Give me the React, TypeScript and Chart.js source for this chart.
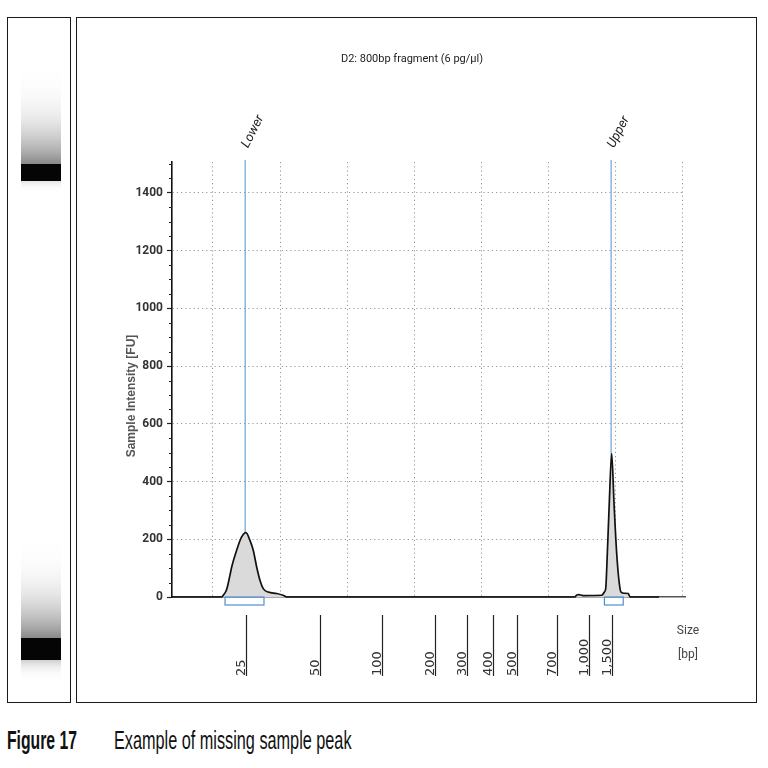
import React, { useEffect, useRef } from 'react';
import { Chart, registerables } from 'chart.js';

Chart.register(...registerables);

// ---------- data ----------
const TITLE = 'D2: 800bp fragment (6 pg/µl)';
const Y_TITLE = 'Sample Intensity [FU]';
const X_UNIT_LABEL = ['Size', '[bp]'];
const CAPTION_NUMBER = 'Figure 17';
const CAPTION_TEXT = 'Example of missing sample peak';

// electropherogram trace: migration position (arbitrary units) vs intensity (FU)
const TRACE_X = [
  13.9, 21.3, 21.53, 22.04, 22.53, 22.79, 23.53, 24.27, 24.92, 25.51, 26.0, 26.51, 27.0, 27.49, 28.24, 29.49, 30.43, 31.0,
  73.9, 74.17, 74.5, 74.91, 75.2, 77.9, 78.28, 78.49, 78.73, 79.02, 79.38, 79.73, 80.13, 80.52, 80.77, 81.3, 81.86, 82.11, 86.43,
];
const TRACE_Y = [
  0, 0, 6, 26, 75, 104, 162, 208, 223, 196, 162, 104, 58, 29, 17, 12, 6, 0,
  0, 7, 8, 6, 5, 6, 17, 29, 150, 324, 497, 324, 150, 46, 17, 13, 12, 0, 0,
];

const X_MIN = 13.9;
const X_MAX = 90.3;
const Y_MIN = 0;
const Y_MAX = 1507;
const Y_TICKS = [0, 200, 400, 600, 800, 1000, 1200, 1400];
const Y_MINOR_TICKS = [50, 100, 150, 250, 300, 350, 450, 500, 550, 650, 700, 750, 850, 900, 950, 1050, 1100, 1150, 1250, 1300, 1350, 1450, 1500];
const X_GRID = [20, 30, 40, 50, 60, 70, 80, 90];

// ladder (size in bp at migration position)
const LADDER_LABELS = ['25', '50', '100', '200', '300', '400', '500', '700', '1,000', '1,500'];
const LADDER_POS = [24.9, 35.9, 45.2, 53.1, 57.8, 61.7, 65.3, 71.2, 76.0, 79.4];

// markers and integration windows
const MARKER_NAMES = ['Lower', 'Upper'];
const MARKER_POS = [24.8, 79.3];
const WINDOW_START = [21.8, 78.3];
const WINDOW_END = [27.6, 81.1];

// gel lane: layers (migration range) with relative intensity at each end
const GEL_LANE = ['D2'];
const GEL_LO = [80.21, 26.06, 76.6, 20.6, 78.27, 23.54];
const GEL_HI = [92.5, 38.5, 78.27, 23.54, 80.21, 26.06];
const GEL_INT_LO = [0.5, 0.5, 0.0, 0.0, 1, 1];
const GEL_INT_HI = [0.0, 0.0, 0.12, 0.2, 1, 1];
const GEL_Y_MIN = 18.97;
const GEL_Y_MAX = 96.78;

// ---------- styling ----------
const SANS = "Roboto, 'Liberation Sans', sans-serif";
const WIDE = "'DejaVu Sans', Verdana, sans-serif";

const MAIN_W = 676;
const MAIN_H = 682;

const annotations = {
  id: 'annotations',
  beforeDatasetsDraw(chart: any) {
    const { ctx, chartArea, scales } = chart;
    const xs = scales.x;
    ctx.save();
    ctx.strokeStyle = '#74aad8';
    ctx.lineWidth = 1.3;
    MARKER_POS.forEach((p) => {
      const px = xs.getPixelForValue(p);
      ctx.beginPath();
      ctx.moveTo(px, chartArea.top - 2);
      ctx.lineTo(px, chartArea.bottom);
      ctx.stroke();
    });
    ctx.restore();
  },
  afterDatasetsDraw(chart: any) {
    const { ctx, chartArea, scales } = chart;
    const xs = scales.x;
    ctx.save();
    ctx.strokeStyle = '#4f8fd0';
    ctx.lineWidth = 1.2;
    WINDOW_START.forEach((s, i) => {
      const x0 = xs.getPixelForValue(s);
      const x1 = xs.getPixelForValue(WINDOW_END[i]);
      ctx.strokeRect(x0, chartArea.bottom, x1 - x0, 8);
    });
    ctx.restore();
  },
  afterDraw(chart: any) {
    const { ctx, chartArea, scales } = chart;
    const xs = scales.x;
    const ys = scales.y;
    ctx.save();
    // title
    ctx.fillStyle = '#222';
    ctx.font = `11px ${SANS}`;
    ctx.textAlign = 'center';
    ctx.textBaseline = 'middle';
    ctx.fillText(TITLE, 334, 40);
    // minor y ticks
    ctx.strokeStyle = '#222';
    ctx.lineWidth = 1;
    Y_MINOR_TICKS.forEach((v) => {
      const py = Math.round(ys.getPixelForValue(v)) + 0.5;
      ctx.beginPath();
      ctx.moveTo(chartArea.left - 3, py);
      ctx.lineTo(chartArea.left, py);
      ctx.stroke();
    });
    // ladder ticks and labels
    ctx.strokeStyle = '#222';
    ctx.lineWidth = 1.2;
    ctx.fillStyle = '#333';
    ctx.font = `13px ${WIDE}`;
    LADDER_POS.forEach((p, i) => {
      const px = Math.round(xs.getPixelForValue(p)) + 0.5;
      ctx.beginPath();
      ctx.moveTo(px, chartArea.bottom + 18);
      ctx.lineTo(px, chartArea.bottom + 79);
      ctx.stroke();
      ctx.save();
      ctx.translate(px - 2, chartArea.bottom + 79);
      ctx.rotate(-Math.PI / 2);
      ctx.textAlign = 'left';
      ctx.textBaseline = 'alphabetic';
      ctx.fillText(LADDER_LABELS[i], 0, 0);
      ctx.restore();
    });
    // size unit label
    ctx.fillStyle = '#444';
    ctx.font = `12px ${SANS}`;
    ctx.textAlign = 'center';
    ctx.textBaseline = 'middle';
    ctx.fillText(X_UNIT_LABEL[0], chartArea.right + 3, chartArea.bottom + 34);
    ctx.fillText(X_UNIT_LABEL[1], chartArea.right + 3, chartArea.bottom + 58);
    // marker names
    ctx.fillStyle = '#222';
    ctx.font = `italic 13px ${SANS}`;
    MARKER_POS.forEach((p, i) => {
      const px = xs.getPixelForValue(p);
      ctx.save();
      ctx.translate(px, chartArea.top - 15);
      ctx.rotate((-63 * Math.PI) / 180);
      ctx.textAlign = 'left';
      ctx.textBaseline = 'middle';
      ctx.fillText(MARKER_NAMES[i], 0, 0);
      ctx.restore();
    });
    // y axis title
    ctx.fillStyle = '#555';
    ctx.font = `bold 12px 'Liberation Sans', Arial, sans-serif`;
    ctx.save();
    ctx.translate(54, 377);
    ctx.rotate(-Math.PI / 2);
    ctx.textAlign = 'center';
    ctx.textBaseline = 'middle';
    ctx.fillText(Y_TITLE, 0, 0);
    ctx.restore();
    ctx.restore();
  },
};

function makeGelColor(c: any) {
  const chart = c.chart;
  const ys = chart.scales && chart.scales.y;
  const i = c.datasetIndex;
  if (!ys || !chart.chartArea) return 'rgba(0,0,0,0.5)';
  const aLo = GEL_INT_LO[i];
  const aHi = GEL_INT_HI[i];
  if (aLo === aHi) return `rgba(5,5,5,${aLo})`;
  const y0 = ys.getPixelForValue(GEL_LO[i]);
  const y1 = ys.getPixelForValue(GEL_HI[i]);
  if (!isFinite(y0) || !isFinite(y1)) return 'rgba(0,0,0,0.3)';
  const g = chart.ctx.createLinearGradient(0, y0, 0, y1);
  for (let k = 0; k <= 12; k++) {
    const t = k / 12;
    const a = aLo * Math.pow(1 - t, 3) + aHi * Math.pow(t, 3);
    g.addColorStop(t, `rgba(20,20,20,${a.toFixed(3)})`);
  }
  return g;
}

export default function App() {
  const mainRef = useRef<HTMLCanvasElement | null>(null);
  const gelRef = useRef<HTMLCanvasElement | null>(null);

  useEffect(() => {
    if (!mainRef.current || !gelRef.current) return;

    const main = new Chart(mainRef.current, {
      type: 'line',
      data: {
        datasets: [
          {
            data: TRACE_X.map((x, i) => ({ x, y: TRACE_Y[i] })),
            borderColor: '#111',
            borderWidth: 1.7,
            backgroundColor: '#dadada',
            fill: 'origin',
            pointRadius: 0,
            cubicInterpolationMode: 'monotone',
            clip: 6,
          } as any,
        ],
      },
      options: {
        responsive: false,
        animation: false,
        devicePixelRatio: 1,
        layout: { padding: { left: 0, right: MAIN_W - 607, top: 143, bottom: 0 } },
        plugins: {
          legend: { display: false },
          tooltip: { enabled: false },
          title: { display: false },
        },
        scales: {
          x: {
            type: 'linear',
            min: X_MIN,
            max: X_MAX,
            afterBuildTicks: (s: any) => {
              s.ticks = X_GRID.map((v) => ({ value: v }));
            },
            afterFit: (s: any) => {
              s.height = MAIN_H - 578;
              s.paddingLeft = 0;
              s.paddingRight = 0;
              s.paddingTop = 0;
              s.paddingBottom = 0;
            },
            ticks: { display: false },
            grid: { color: '#999', lineWidth: 1, drawTicks: false },
            border: { color: '#555', width: 1.5, dash: [1.2, 3] },
          },
          y: {
            type: 'linear',
            min: Y_MIN,
            max: Y_MAX,
            afterBuildTicks: (s: any) => {
              s.ticks = Y_TICKS.map((v) => ({ value: v }));
            },
            afterFit: (s: any) => {
              s.width = 94;
              s.paddingTop = 0;
              s.paddingBottom = 0;
              s.paddingLeft = 0;
              s.paddingRight = 0;
            },
            ticks: {
              color: '#333',
              padding: 4,
              font: { family: SANS, size: 12, weight: 'bold' as any },
              callback: (v: any) => String(v),
            },
            grid: {
              color: (c: any) => (c.tick && c.tick.value === 0 ? 'rgba(0,0,0,0)' : '#999'),
              lineWidth: 1,
              tickLength: 5,
              tickColor: '#222',
              tickWidth: 1.2,
            },
            border: { color: '#111', width: 1.6, dash: [1.2, 3] },
          },
        },
      },
      plugins: [annotations],
    });

    const gel = new Chart(gelRef.current, {
      type: 'bar',
      data: {
        labels: GEL_LANE,
        datasets: GEL_LO.map((lo, i) => ({
          data: [[lo, GEL_HI[i]]],
          backgroundColor: makeGelColor,
          borderWidth: 0,
          borderSkipped: false,
          grouped: false,
          barPercentage: 0.714,
          categoryPercentage: 1,
        })) as any,
      },
      options: {
        responsive: false,
        animation: false,
        devicePixelRatio: 1,
        layout: { padding: { left: 4, right: 0, top: 0, bottom: 0 } },
        plugins: { legend: { display: false }, tooltip: { enabled: false } },
        scales: {
          x: { type: 'category', display: false },
          y: { type: 'linear', min: GEL_Y_MIN, max: GEL_Y_MAX, display: false },
        },
      },
    });

    return () => {
      main.destroy();
      gel.destroy();
    };
  }, []);

  const box: React.CSSProperties = {
    position: 'absolute',
    border: '1.5px solid #1a1a1a',
    boxSizing: 'border-box',
  };

  return (
    <div>
      <div style={{ ...box, left: 7, top: 17, width: 64, height: 686 }} />
      <canvas
        ref={gelRef}
        width={60}
        height={681}
        style={{ position: 'absolute', left: 9, top: 19, width: 60, height: 681 }}
      />
      <div style={{ ...box, left: 76, top: 17, width: 681, height: 686 }} />
      <canvas
        ref={mainRef}
        width={MAIN_W}
        height={MAIN_H}
        style={{ position: 'absolute', left: 78, top: 19, width: MAIN_W, height: MAIN_H }}
      />
      <div
        style={{
          position: 'absolute',
          left: 7,
          top: 728,
          fontFamily: "'Liberation Sans', Arial, sans-serif",
          fontSize: 25,
          lineHeight: '25px',
          fontWeight: 'bold',
          color: '#111',
          transform: 'scaleX(0.63)',
          transformOrigin: 'left top',
          whiteSpace: 'nowrap',
        }}
      >
        {CAPTION_NUMBER}
      </div>
      <div
        style={{
          position: 'absolute',
          left: 114,
          top: 728,
          fontFamily: "'Liberation Sans', Arial, sans-serif",
          fontSize: 25,
          lineHeight: '25px',
          color: '#111',
          transform: 'scaleX(0.65)',
          transformOrigin: 'left top',
          whiteSpace: 'nowrap',
        }}
      >
        {CAPTION_TEXT}
      </div>
    </div>
  );
}
